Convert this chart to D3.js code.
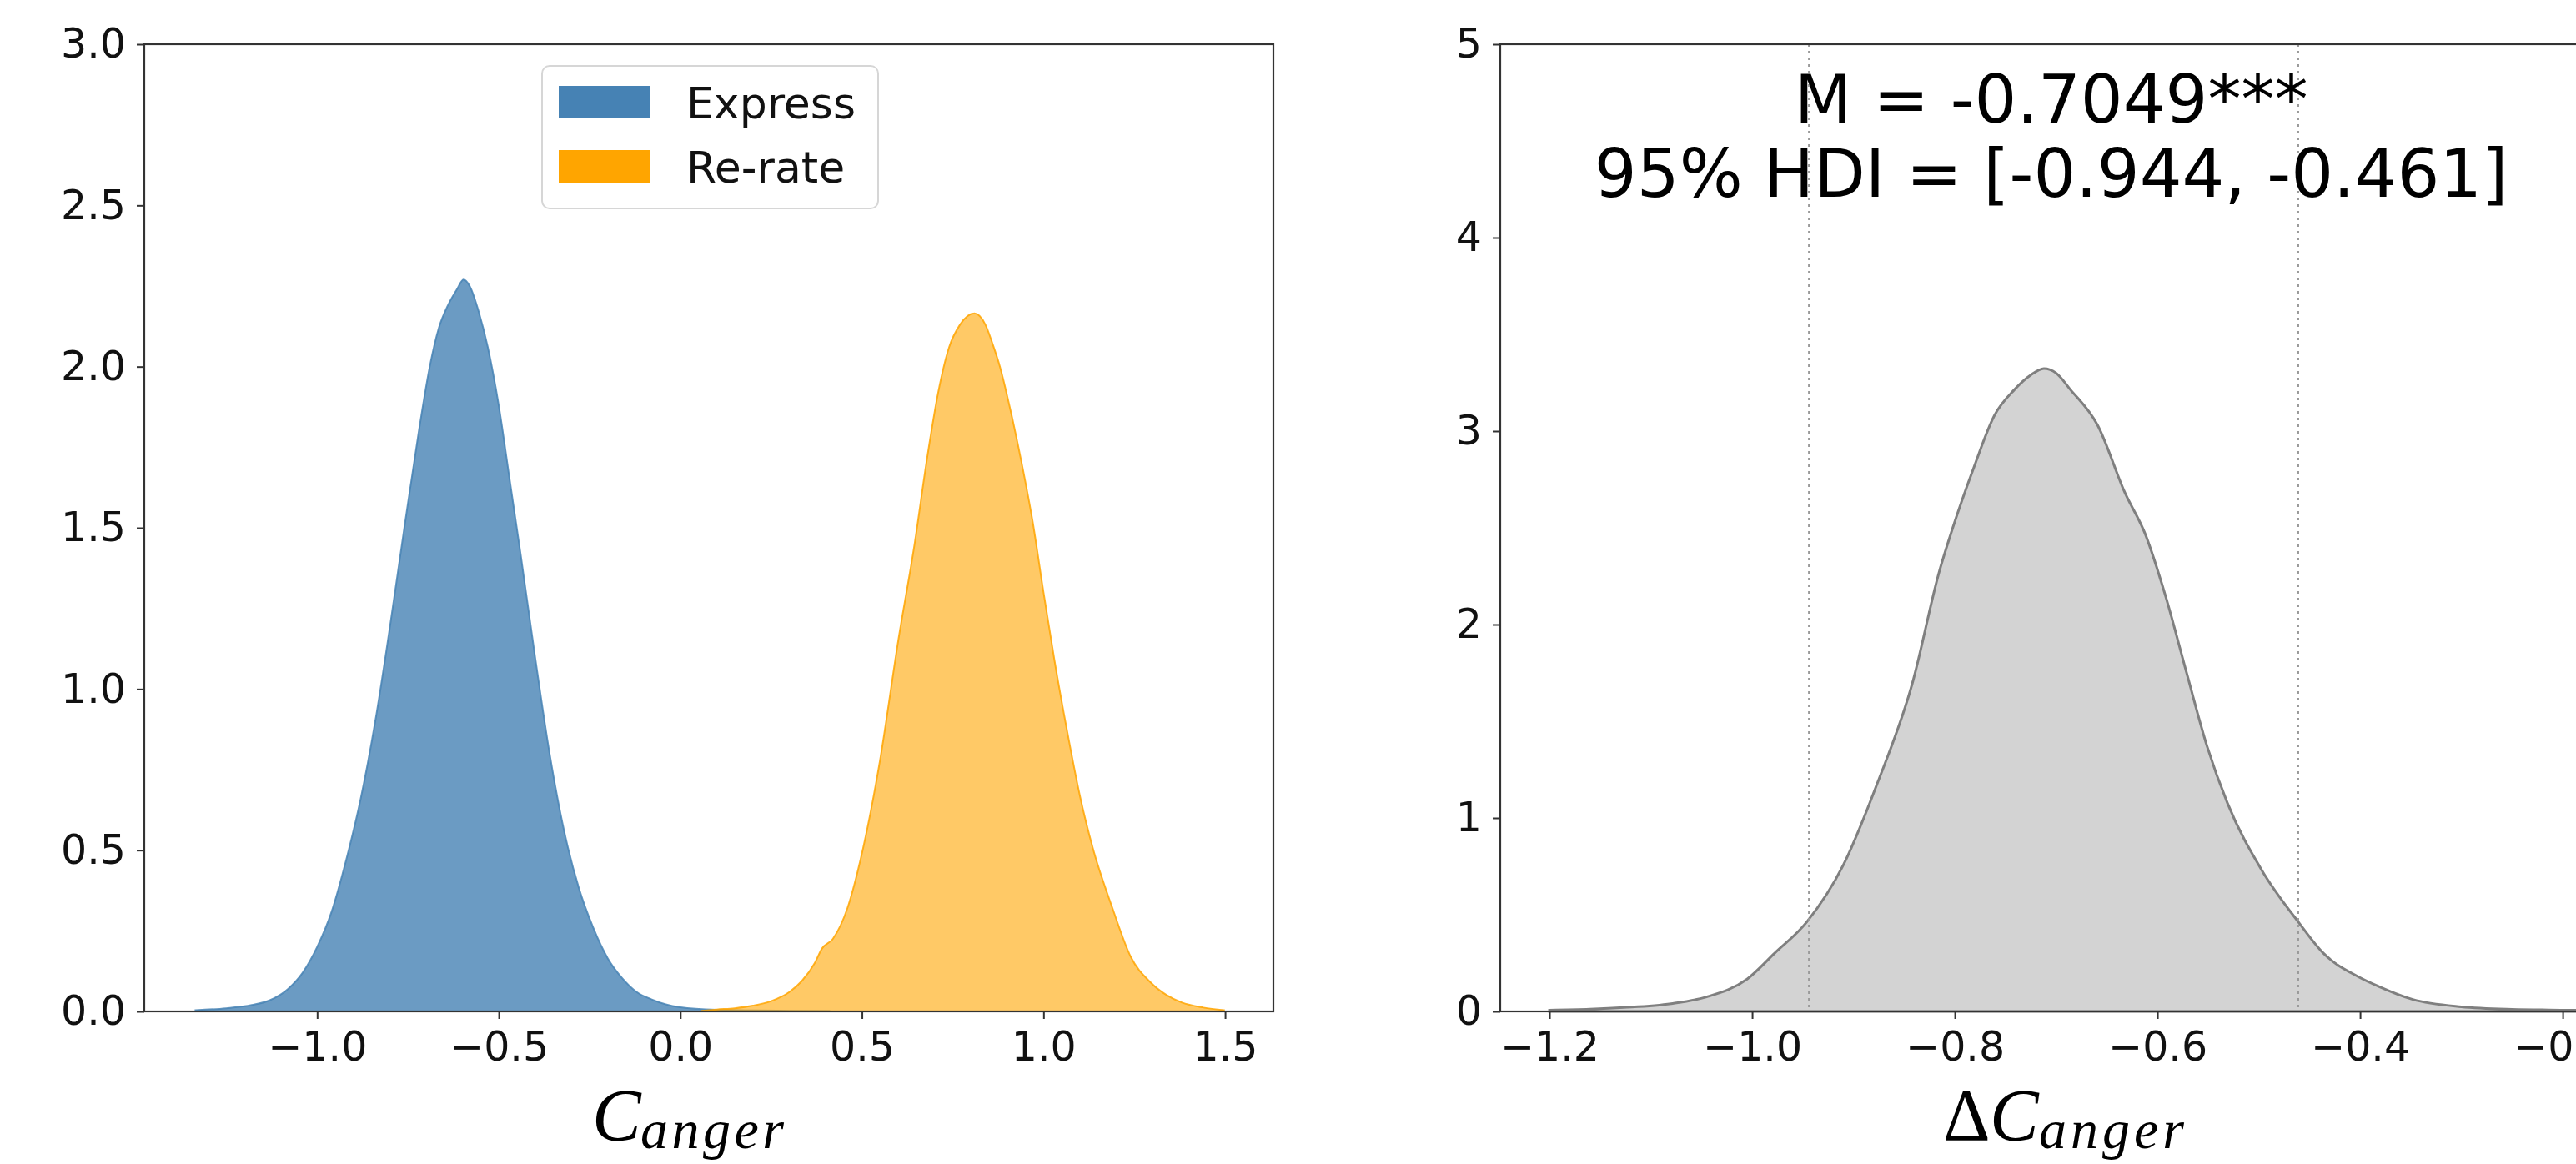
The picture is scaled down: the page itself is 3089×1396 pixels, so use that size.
<!DOCTYPE html>
<html>
<head>
<meta charset="utf-8">
<script src="https://cdn.jsdelivr.net/npm/d3@7"></script>
<style>
  html, body { margin: 0; padding: 0; background: #fff; overflow: hidden; }
  svg { display: block; }
  .tick text { font-family: "DejaVu Sans", sans-serif; fill: #111; }
</style>
</head>
<body>
<svg id="chart" width="3089" height="1396"></svg>
<script>
// ---------------- data ----------------
const seriesNames = ["Express", "Re-rate"];
const seriesColors = ["steelblue", "orange"];

const expressX = [-1.335, -1.25, -1.18, -1.13, -1.08, -1.04, -1.00, -0.96, -0.92, -0.88, -0.84, -0.80, -0.76, -0.72, -0.69, -0.665, -0.64, -0.615, -0.597, -0.58, -0.555, -0.53, -0.50, -0.47, -0.44, -0.40, -0.36, -0.32, -0.28, -0.24, -0.20, -0.16, -0.12, -0.08, -0.04, 0.00, 0.10, 0.20, 0.30, 0.41];
const expressY = [0.004, 0.010, 0.020, 0.035, 0.070, 0.120, 0.200, 0.310, 0.470, 0.660, 0.900, 1.190, 1.500, 1.800, 2.000, 2.120, 2.190, 2.240, 2.270, 2.250, 2.170, 2.060, 1.880, 1.650, 1.420, 1.100, 0.800, 0.560, 0.385, 0.260, 0.165, 0.103, 0.060, 0.038, 0.022, 0.013, 0.005, 0.003, 0.002, 0.001];

const rerateX = [0.06, 0.10, 0.15, 0.20, 0.25, 0.30, 0.335, 0.37, 0.39, 0.42, 0.46, 0.50, 0.55, 0.60, 0.645, 0.68, 0.71, 0.74, 0.77, 0.81, 0.84, 0.86, 0.88, 0.91, 0.94, 0.97, 1.00, 1.03, 1.07, 1.10, 1.135, 1.19, 1.24, 1.295, 1.34, 1.38, 1.44, 1.497];
const rerateY = [0.002, 0.006, 0.010, 0.018, 0.032, 0.060, 0.095, 0.150, 0.195, 0.225, 0.320, 0.490, 0.780, 1.150, 1.450, 1.720, 1.920, 2.060, 2.130, 2.165, 2.130, 2.070, 2.000, 1.860, 1.700, 1.520, 1.300, 1.090, 0.840, 0.670, 0.510, 0.320, 0.170, 0.090, 0.050, 0.028, 0.012, 0.004];

const diffX = [-1.20, -1.16, -1.127, -1.08, -1.045, -1.005, -0.978, -0.946, -0.91, -0.876, -0.842, -0.815, -0.802, -0.781, -0.761, -0.741, -0.725, -0.712, -0.700, -0.686, -0.659, -0.632, -0.612, -0.592, -0.571, -0.551, -0.531, -0.497, -0.461, -0.436, -0.402, -0.382, -0.348, -0.30, -0.25, -0.199, -0.15];
const diffY = [0.007, 0.012, 0.020, 0.040, 0.075, 0.167, 0.300, 0.463, 0.757, 1.185, 1.694, 2.280, 2.500, 2.815, 3.080, 3.215, 3.290, 3.323, 3.300, 3.215, 3.030, 2.680, 2.467, 2.147, 1.746, 1.370, 1.078, 0.730, 0.463, 0.300, 0.180, 0.130, 0.062, 0.024, 0.011, 0.007, 0.004];

const hdiBounds = [-0.944, -0.461];
const meanDiff = -0.7049;
const annotLines = ["M = -0.7049***", "95% HDI = [-0.944, -0.461]"];

const leftXTicks = [-1.0, -0.5, 0.0, 0.5, 1.0, 1.5];
const leftYTicks = [0.0, 0.5, 1.0, 1.5, 2.0, 2.5, 3.0];
const rightXTicks = [-1.2, -1.0, -0.8, -0.6, -0.4, -0.2];
const rightYTicks = [0, 1, 2, 3, 4, 5];

// ---------------- layout ----------------
const svg = d3.select("#chart");
const TICK_FONT = 49;

const L = { x0: 173, x1: 1527, y0: 53, y1: 1213 };
const R = { x0: 1799, x1: 3194, y0: 53, y1: 1213 };

const xL = d3.scaleLinear().domain([-1.476, 1.633]).range([L.x0, L.x1]);
const yL = d3.scaleLinear().domain([0, 3]).range([L.y1, L.y0]);
const xR = d3.scaleLinear().domain([-1.2486, -0.1005]).range([R.x0, R.x1]);
const yR = d3.scaleLinear().domain([0, 5]).range([R.y1, R.y0]);

function zipXY(xs, ys) { return xs.map((x, i) => ({ x: x, y: ys[i] })); }

function drawAxes(P, xs, ys, xt, yt, xfmt, yfmt) {
  const gx = svg.append("g").attr("transform", `translate(0,${P.y1})`)
    .call(d3.axisBottom(xs).tickValues(xt).tickFormat(xfmt).tickSize(9).tickSizeOuter(0).tickPadding(15));
  const gy = svg.append("g").attr("transform", `translate(${P.x0},0)`)
    .call(d3.axisLeft(ys).tickValues(yt).tickFormat(yfmt).tickSize(9).tickSizeOuter(0).tickPadding(13));
  [gx, gy].forEach(g => {
    g.select(".domain").remove();
    g.selectAll(".tick line").attr("stroke", "#333").attr("stroke-width", 2);
    g.selectAll(".tick text").attr("font-size", TICK_FONT).attr("fill", "#111");
  });
}

function drawSpines(P) {
  svg.append("rect").attr("x", P.x0).attr("y", P.y0)
    .attr("width", P.x1 - P.x0).attr("height", P.y1 - P.y0)
    .attr("fill", "none").attr("stroke", "#333").attr("stroke-width", 2.2);
}

// ---------------- left panel ----------------
const areaL = d3.area().x(d => xL(d.x)).y0(yL(0)).y1(d => yL(d.y)).curve(d3.curveMonotoneX);
const leftSeries = [zipXY(expressX, expressY), zipXY(rerateX, rerateY)];
const fillOpacity = [0.8, 0.6];
leftSeries.forEach((s, i) => {
  svg.append("path").datum(s).attr("d", areaL)
    .attr("fill", seriesColors[i]).attr("fill-opacity", fillOpacity[i])
    .attr("stroke", seriesColors[i]).attr("stroke-opacity", 0.85).attr("stroke-width", 2);
});
drawSpines(L);
drawAxes(L, xL, yL, leftXTicks, leftYTicks, d3.format(".1f"), d3.format(".1f"));

// legend
const leg = svg.append("g");
leg.append("rect").attr("x", 650).attr("y", 79).attr("width", 403).attr("height", 171)
  .attr("rx", 9).attr("fill", "#fff").attr("fill-opacity", 0.8)
  .attr("stroke", "#d6d6d6").attr("stroke-width", 2);
seriesNames.forEach((name, i) => {
  const cy = 122.5 + i * 77;
  leg.append("rect").attr("x", 670).attr("y", cy - 19.5).attr("width", 110).attr("height", 39)
    .attr("fill", seriesColors[i]);
  leg.append("text").attr("x", 823).attr("y", cy + 19)
    .attr("font-family", "DejaVu Sans").attr("font-size", 52).attr("fill", "#111").text(name);
});

// x label left: C with subscript "anger"
svg.append("text").attr("x", 710).attr("y", 1367)
  .attr("font-family", "Liberation Serif, serif").attr("font-style", "italic")
  .attr("font-size", 88).attr("fill", "#000").text("C");
svg.append("text").attr("x", 768).attr("y", 1377)
  .attr("font-family", "Liberation Serif, serif").attr("font-style", "italic")
  .attr("font-size", 66).attr("fill", "#000")
  .attr("textLength", 172).attr("lengthAdjust", "spacing").text("anger");

// ---------------- right panel ----------------
const areaR = d3.area().x(d => xR(d.x)).y0(yR(0)).y1(d => yR(d.y)).curve(d3.curveMonotoneX);
svg.append("path").datum(zipXY(diffX, diffY)).attr("d", areaR)
  .attr("fill", "#d3d3d3").attr("stroke", "#7f7f7f").attr("stroke-width", 3);

hdiBounds.forEach(v => {
  svg.append("line").attr("x1", xR(v)).attr("x2", xR(v)).attr("y1", R.y0).attr("y2", R.y1)
    .attr("stroke", "#9a9a9a").attr("stroke-width", 2).attr("stroke-dasharray", "3,5");
});
drawSpines(R);
drawAxes(R, xR, yR, rightXTicks, rightYTicks, d3.format(".1f"), d3.format("d"));

annotLines.forEach((t, i) => {
  svg.append("text").attr("x", xR(meanDiff)).attr("y", 147 + i * 89)
    .attr("text-anchor", "middle").attr("font-family", "DejaVu Sans")
    .attr("font-size", 80).attr("fill", "#000").text(t);
});

// x label right: ΔC with subscript "anger"
svg.append("text").attr("x", 2330).attr("y", 1367)
  .attr("font-family", "Liberation Serif, serif").attr("font-size", 88).attr("fill", "#000").text("Δ");
svg.append("text").attr("x", 2386).attr("y", 1367)
  .attr("font-family", "Liberation Serif, serif").attr("font-style", "italic")
  .attr("font-size", 88).attr("fill", "#000").text("C");
svg.append("text").attr("x", 2445).attr("y", 1377)
  .attr("font-family", "Liberation Serif, serif").attr("font-style", "italic")
  .attr("font-size", 66).attr("fill", "#000")
  .attr("textLength", 174).attr("lengthAdjust", "spacing").text("anger");
</script>
</body>
</html>
